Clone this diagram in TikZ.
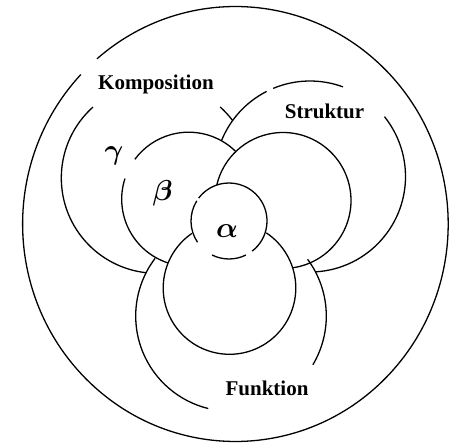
\documentclass[tikz,border=0pt]{standalone}
\usepackage{fontspec}
\setmainfont{Liberation Serif}
\usepackage{tikz}
\usetikzlibrary{positioning, calc}

\begin{document}
\begin{tikzpicture}[
    x=0.5pt, y=0.5pt,
    ring/.style={draw, line width=0.65pt},
    label/.style={font=\bfseries\fontsize{10.5}{12}\selectfont, anchor=base, inner sep=0pt},
    greek/.style={font=\boldmath\fontsize{15}{17}\selectfont, inner sep=0pt}
]
    \useasboundingbox (0,0) rectangle (449,443);

    % Centres of the circles
    \coordinate (all) at (235.4,219);
    \coordinate (komp) at (156.6,265);
    \coordinate (strukt) at (310,266.5);
    \coordinate (funk) at (231,127);
    \coordinate (beta) at (188.7,243.8);
    \coordinate (struktin) at (283,242.5);
    \coordinate (funkin) at (229.5,155);
    \coordinate (alpha) at (229,222);

    % Outer ring
    \draw[ring] ([shift={(136.6:212.8 and 217.5)}]all) arc[start angle=136.6, end angle=490.6, x radius=212.8, y radius=217.5];

    % Komposition (gamma)
    \draw[ring] ([shift={(131.9:95.3)}]komp) arc[start angle=131.9, end angle=263.7, radius=95.3];
    \draw[ring] ([shift={(37.1:95.3)}]komp) arc[start angle=37.1, end angle=48.2, radius=95.3];

    % Struktur
    \draw[ring] ([shift={(117:95.5)}]strukt) arc[start angle=117, end angle=158.1, radius=95.5];
    \draw[ring] ([shift={(69.8:95.5)}]strukt) arc[start angle=69.8, end angle=112.7, radius=95.5];
    \draw[ring] ([shift={(-86.8:95.5)}]strukt) arc[start angle=-86.8, end angle=38.8, radius=95.5];
    \draw[ring] ([shift={(-81.9:68)}]struktin) arc[start angle=-81.9, end angle=166.8, radius=68];

    % Funktion
    \draw[ring] ([shift={(142.8:95.3)}]funk) arc[start angle=142.8, end angle=256.2, radius=95.3];
    \draw[ring] ([shift={(-30.8:95.3)}]funk) arc[start angle=-30.8, end angle=36.5, radius=95.3];
    \draw[ring] ([shift={(124.6:66.3)}]funkin) arc[start angle=124.6, end angle=416.3, radius=66.3];

    % beta
    \draw[ring] ([shift={(162.1:67)}]beta) arc[start angle=162.1, end angle=252, radius=67];
    \draw[ring] ([shift={(45.4:67)}]beta) arc[start angle=45.4, end angle=143.4, radius=67];

    % alpha
    \draw[ring] ([shift={(-52.3:38)}]alpha) arc[start angle=-52.3, end angle=143, radius=38];
    \draw[ring] ([shift={(148:38)}]alpha) arc[start angle=148, end angle=214, radius=38];
    \draw[ring] ([shift={(243.5:38)}]alpha) arc[start angle=243.5, end angle=296.4, radius=38];

    % Labels
    \node[label] (komplabel) at (156,353.7) {Komposition};
    \node[label] (struktlabel) at (324.5,324) {Struktur};
    \node[label] (funklabel) at (267,47.3) {Funktion};
    \node[greek] (gammalabel) at (114,286.7) {$\gamma$};
    \node[greek] (betalabel) at (162.5,250) {$\beta$};
    \node[greek] (alphalabel) at (227,211.6) {$\alpha$};
\end{tikzpicture}
\end{document}
